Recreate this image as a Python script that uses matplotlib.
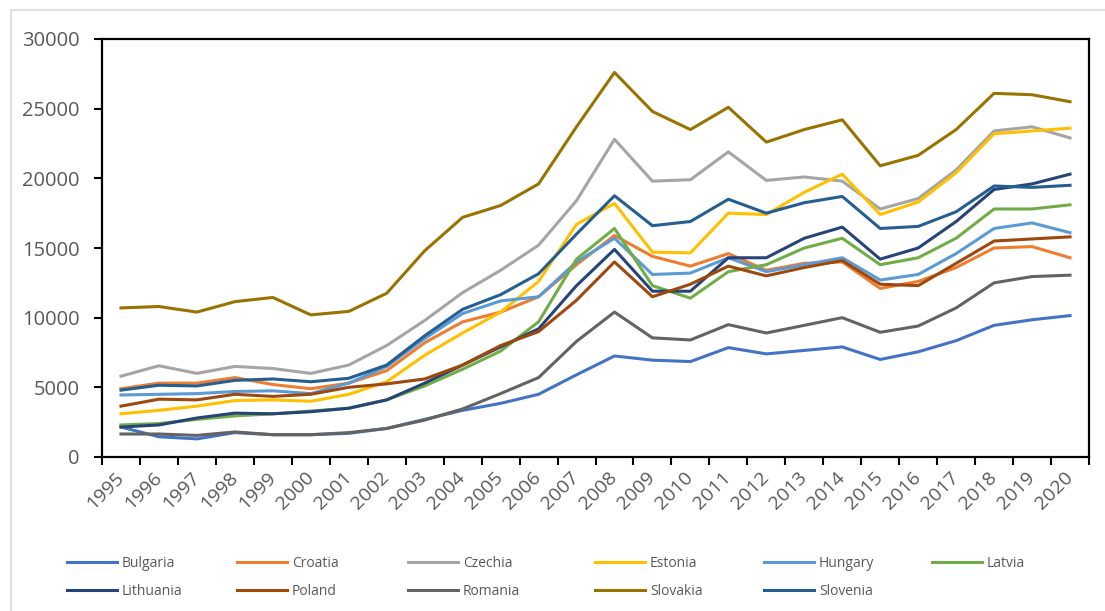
import matplotlib
matplotlib.use("Agg")
import matplotlib.pyplot as plt
from matplotlib.patches import Rectangle
from matplotlib.lines import Line2D
import numpy as np

years = [str(y) for y in range(1995, 2021)]

bulgaria = [2150, 1450, 1300, 1750, 1600, 1600, 1700, 2050, 2700, 3350, 3850, 4500, 5900, 7250, 6950, 6850, 7850, 7400, 7650, 7900, 7000, 7550, 8350, 9450, 9850, 10150]
croatia = [4900, 5300, 5300, 5700, 5200, 4900, 5300, 6200, 8200, 9700, 10400, 11500, 13800, 15900, 14400, 13700, 14600, 13400, 13900, 14000, 12100, 12600, 13600, 15000, 15100, 14300]
czechia = [5800, 6550, 6000, 6500, 6350, 6000, 6600, 8000, 9800, 11800, 13400, 15200, 18400, 22800, 19800, 19900, 21900, 19850, 20100, 19800, 17800, 18550, 20600, 23400, 23700, 22900]
estonia = [3100, 3350, 3650, 4050, 4100, 4000, 4500, 5400, 7300, 8900, 10400, 12600, 16700, 18200, 14700, 14650, 17500, 17400, 19000, 20300, 17400, 18300, 20400, 23200, 23400, 23600]
hungary = [4450, 4500, 4550, 4700, 4750, 4550, 5300, 6500, 8500, 10300, 11200, 11500, 14000, 15700, 13100, 13200, 14300, 13300, 13800, 14300, 12700, 13100, 14600, 16400, 16800, 16100]
latvia = [2300, 2400, 2700, 2950, 3100, 3300, 3500, 4100, 5100, 6300, 7600, 9700, 14200, 16400, 12300, 11400, 13300, 13800, 15000, 15700, 13800, 14300, 15700, 17800, 17800, 18100]
lithuania = [2150, 2300, 2800, 3150, 3100, 3250, 3500, 4100, 5300, 6600, 7900, 9200, 12300, 14900, 11900, 11900, 14300, 14300, 15700, 16500, 14200, 15000, 16900, 19200, 19600, 20300]
poland = [3650, 4150, 4100, 4500, 4350, 4500, 5000, 5250, 5600, 6600, 8000, 9000, 11250, 14000, 11500, 12400, 13700, 13000, 13600, 14100, 12400, 12300, 13900, 15500, 15650, 15800]
romania = [1650, 1650, 1550, 1800, 1600, 1600, 1750, 2050, 2650, 3450, 4550, 5700, 8300, 10400, 8550, 8400, 9500, 8900, 9450, 10000, 8950, 9400, 10700, 12500, 12950, 13050]
slovakia = [10700, 10800, 10400, 11150, 11450, 10200, 10450, 11750, 14800, 17200, 18050, 19600, 23700, 27600, 24800, 23500, 25100, 22600, 23500, 24200, 20900, 21650, 23500, 26100, 26000, 25500]
slovenia = [4800, 5150, 5100, 5500, 5600, 5400, 5650, 6600, 8700, 10600, 11650, 13150, 16000, 18750, 16600, 16900, 18500, 17500, 18250, 18700, 16400, 16550, 17600, 19450, 19350, 19500]

countries = ["Bulgaria", "Croatia", "Czechia", "Estonia", "Hungary", "Latvia",
             "Lithuania", "Poland", "Romania", "Slovakia", "Slovenia"]
series = [bulgaria, croatia, czechia, estonia, hungary, latvia,
          lithuania, poland, romania, slovakia, slovenia]
colors = ["#4472C4", "#ED7D31", "#A5A5A5", "#FFC000", "#5B9BD5", "#70AD47",
          "#264478", "#9E480E", "#636363", "#997300", "#255E91"]

plt.rcParams['font.family'] = ['Open Sans', 'DejaVu Sans']

W, H = 1105, 611
fig = plt.figure(figsize=(W / 100, H / 100), dpi=100)
fig.patch.set_facecolor("white")

# outer chart-area border
fig.patches.append(Rectangle((11 / W, -0.1), 1.2, 1 - 10 / H + 0.1, transform=fig.transFigure,
                             fill=False, edgecolor="#D9D9D9", lw=1.2))

ax = fig.add_axes([102 / W, 1 - 457 / H, (1089 - 102) / W, (457 - 39) / H])
x = np.arange(len(years))
for name, vals, c in zip(countries, series, colors):
    ax.plot(x, vals, color=c, lw=2.2, label=name)

ax.set_xlim(-0.5, len(years) - 0.5)
ax.set_ylim(0, 30000)
ax.set_yticks(np.arange(0, 30001, 5000))
ax.set_xticks(x)
ax.set_xticks(np.arange(-0.5, len(years), 1), minor=True)
ax.set_xticklabels(years, rotation=45, ha="right", rotation_mode="anchor", va="center")
ax.tick_params(axis="x", which="major", length=0, pad=13, labelsize=14, labelcolor="#595959")
ax.tick_params(axis="x", which="minor", length=6, width=1.5, direction="out", color="black")
ax.tick_params(axis="y", length=6, width=1.5, direction="out", pad=10, labelsize=14.5,
               labelcolor="#595959", color="black")
for s in ax.spines.values():
    s.set_color("black")
    s.set_linewidth(1.6)

# legend: six columns, two rows
col_x = [67, 237, 408, 595, 764, 932]
fs = 10
for i in range(6):
    idx = [i] + ([i + 6] if i + 6 < len(countries) else [])
    hs = [Line2D([0], [0], color=colors[k], lw=2.2) for k in idx]
    labs = [countries[k] for k in idx]
    leg = fig.legend(hs, labs, loc="upper left",
                     bbox_to_anchor=(col_x[i] / W, 1 - 556 / H),
                     frameon=False, fontsize=fs, handlelength=3.6, handletextpad=0.35,
                     labelspacing=0.95, borderpad=0, borderaxespad=0)
    for t in leg.get_texts():
        t.set_color("#595959")

fig.savefig("out.png", dpi=100)
